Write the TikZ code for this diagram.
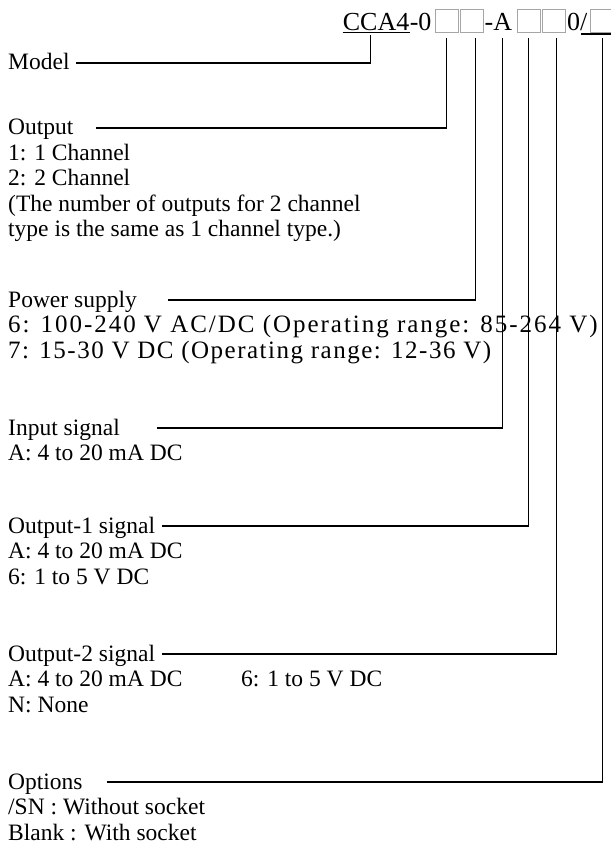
\documentclass[tikz,border=0pt]{standalone}
\usepackage{fontspec}
\setmainfont{Liberation Serif}
\usetikzlibrary{positioning}

\tikzset{
    item text/.style = {font = \fontsize{23.5}{28}\selectfont, inner sep = 0pt, anchor = base west},
    spaced text/.style = {item text, font = \fontsize{25}{28}\selectfont\addfontfeature{LetterSpace = #1}},
    code text/.style = {font = \fontsize{26}{30}\selectfont, inner sep = 0pt, anchor = base west},
    code box/.style = {draw = gray!70, line width = 0.8pt, minimum width = 23pt, minimum height = 23pt, inner sep = 0pt, anchor = south west},
    lead line/.style = {line width = 1.1pt}
}

\begin{document}
\begin{tikzpicture}[x = 1pt, y = -1pt]
        \def\leftx{8};
        \def\lsk{25.5};
        \useasboundingbox (0,0) rectangle (610,858);

        % model code
        \node[code text] (cca) at (342.7,31){CCA4};
        \node[code text] (dashzero) at (cca.base east){-0};
        \node[code box] (boxout) at (435,33){};
        \node[code box] (boxpow) at (459.5,33){};
        \node[code text] (dasha) at (484.5,31){-A};
        \node[code box] (boxoa) at (516.5,33){};
        \node[code box] (boxob) at (542,33){};
        \node[code text] (zeroslash) at (567,31){0/};
        \node[code box] (boxopt) at (590,33){};
        \draw[line width = 1.1pt] ([yshift = -1.5pt]cca.south west) -- ([yshift = -1.5pt]cca.south east);
        \draw[line width = 1.2pt] ([xshift = -9pt, yshift = -1pt]boxopt.south west) -- ([yshift = -1pt]boxopt.south east);

        % headings
        \node[item text] (model) at (\leftx, 70){Model};
        \node[item text] (output) at (\leftx, 135){Output};
        \node[item text] (power) at (\leftx, 307){Power supply};
        \node[item text] (input) at (\leftx, 435){Input signal};
        \node[item text] (outa) at (\leftx, 533){Output-1 signal};
        \node[item text] (outb) at (\leftx, 661){Output-2 signal};
        \node[item text] (options) at (\leftx, 789){Options};

        % choices
        \node[item text] (outone) at (\leftx, 135 + \lsk){1: 1 Channel};
        \node[item text] (outtwo) at (\leftx, 135 + 2*\lsk){2: 2 Channel};
        \node[item text] (outnotea) at (\leftx, 135 + 3*\lsk){(The number of outputs for 2 channel};
        \node[item text] (outnoteb) at (\leftx, 135 + 4*\lsk){type is the same as 1 channel type.)};

        \node[spaced text = 7.9] (powsix) at (\leftx, 307 + \lsk){6: 100-240 V AC/DC (Operating range: 85-264 V)};
        \node[spaced text = 6] (powseven) at (\leftx, 307 + 2*\lsk){7: 15-30 V DC (Operating range: 12-36 V)};

        \node[item text] (ina) at (\leftx, 435 + \lsk){A: 4 to 20 mA DC};

        \node[item text] (outaa) at (\leftx, 533 + \lsk){A: 4 to 20 mA DC};
        \node[item text] (outasix) at (\leftx, 533 + 2*\lsk){6: 1 to 5 V DC};

        \node[item text] (outba) at (\leftx, 661 + \lsk){A: 4 to 20 mA DC};
        \node[item text] (outbsix) at (241, 661 + \lsk){6: 1 to 5 V DC};
        \node[item text] (outbn) at (\leftx, 661 + 2*\lsk){N: None};

        \node[item text] (optsn) at (\leftx, 789 + \lsk){/SN : Without socket};
        \node[item text] (optblank) at (\leftx, 789 + 2*\lsk){Blank : With socket};

        % lead lines
        \coordinate (modelend) at (76,63);
        \coordinate (outputend) at (96,128);
        \coordinate (powerend) at (168,300);
        \coordinate (inputend) at (157,428);
        \coordinate (outaend) at (162,526);
        \coordinate (outbend) at (162,654);
        \coordinate (optionsend) at (107,782);

        \draw[lead line] ([xshift = -5.3pt, yshift = -4pt]cca.south) |- (modelend);
        \draw[lead line] ([yshift = -5pt]boxout.south) |- (outputend);
        \draw[lead line] ([xshift = 4.5pt, yshift = -5pt]boxpow.south) |- (powerend);
        \draw[lead line] ([xshift = 3.7pt, yshift = -7pt]dasha.south) |- (inputend);
        \draw[lead line] ([yshift = -5pt]boxoa.south) |- (outaend);
        \draw[lead line] ([xshift = 2.5pt, yshift = -5pt]boxob.south) |- (outbend);
        \draw[lead line] ([xshift = 1pt, yshift = -5pt]boxopt.south) |- (optionsend);
    \end{tikzpicture}
\end{document}
